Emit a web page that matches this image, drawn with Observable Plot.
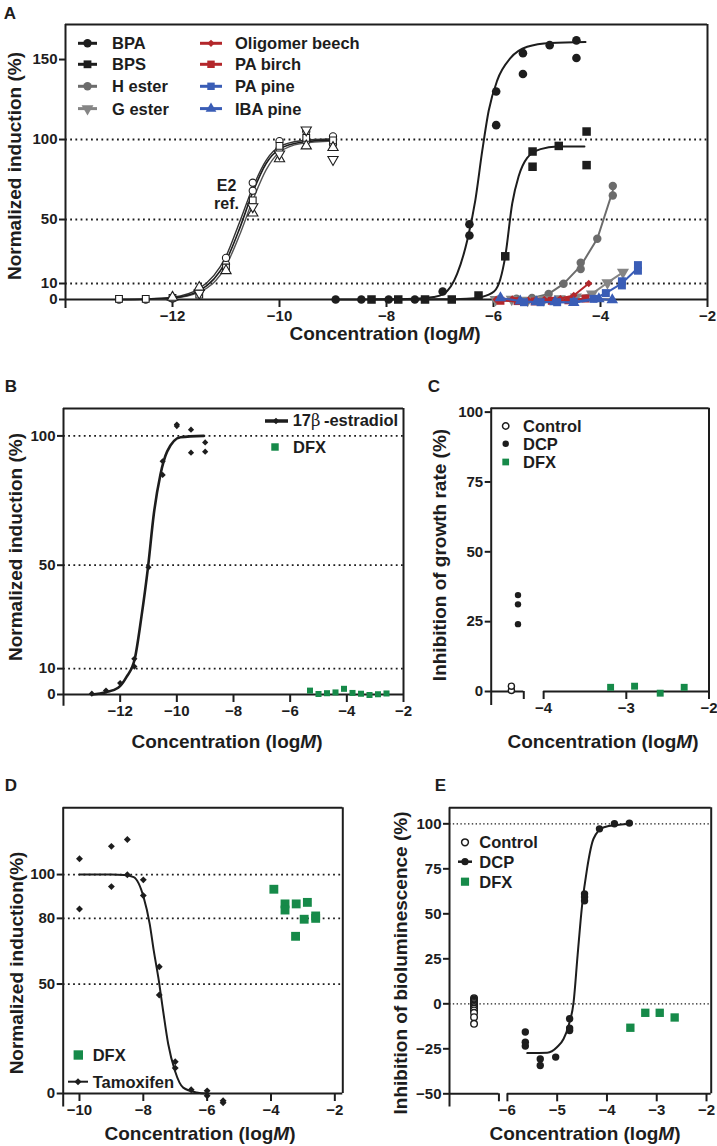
<!DOCTYPE html>
<html><head><meta charset="utf-8">
<script src="https://cdn.jsdelivr.net/npm/d3@7"></script>
<script src="https://cdn.jsdelivr.net/npm/@observablehq/plot@0.6"></script>
<style>
html,body{margin:0;padding:0;background:#fff;}
#root{position:relative;width:717px;height:1146px;overflow:hidden;background:#fff;font-family:"Liberation Sans",Arial,Helvetica,sans-serif;font-weight:bold;color:#1d1d1d;}
.t{position:absolute;white-space:nowrap;line-height:1;transform:translate(-50%,-50%);}
.ty{position:absolute;white-space:nowrap;line-height:1;transform:translate(-50%,-50%) rotate(-90deg);}
.lt{position:absolute;white-space:nowrap;line-height:1;transform:translateY(-50%);}
</style></head><body><div id="root"></div>
<script>
const INK = "#1d1d1d";
const GREEN = "#168a49";
const RED = "#b3272b";
const BLUE = "#3a5db6";
const GREY1 = "#6c6c6c";
const GREY2 = "#858585";
const FONT = '"Liberation Sans", Arial, Helvetica, sans-serif';

// ---------- Panel A data ----------
const aXTicks = [-12, -10, -8, -6, -4, -2];
const aYTicks = [0, 10, 50, 100, 150];
const aGrid = [10, 50, 100];
const e2Circle = [[-13,0],[-12.5,0],[-12,0.6],[-11.5,5],[-11,22],[-11,26],[-10.5,73],[-10.5,68],[-10,99],[-10,94],[-9.5,105],[-9.5,99],[-9,102],[-9,97]];
const e2Square = [[-13,0.4],[-12.5,0.4],[-12,1],[-11.5,3],[-11,20],[-10.5,62],[-10,96],[-9.5,101],[-9,99.5]];
const e2TriUp = [[-12,1.4],[-11.5,7.5],[-11,18],[-10.5,54],[-10,88],[-9.5,96],[-9,95]];
const e2TriDown = [[-11.5,4],[-10.5,58],[-10,91],[-9.5,106],[-9,87.5]];
const e2FitA = [[-13,0],[-12.5,0.2],[-12,1],[-11.5,5.5],[-11,24],[-10.75,44],[-10.5,67],[-10.25,85],[-10,94],[-9.6,98.3],[-9,99.8]];
const e2FitB = [[-13,0],[-12.5,0.3],[-12,1.4],[-11.5,6.8],[-11,27],[-10.75,48],[-10.5,70],[-10.25,87],[-10,95.5],[-9.6,99.2],[-9,100.5]];
const e2FitC = [[-13,0],[-12.5,0.1],[-12,0.8],[-11.5,4.6],[-11,21],[-10.75,40],[-10.5,62],[-10.25,81],[-10,92],[-9.6,97.4],[-9,99]];
const bpa = [[-8.95,0],[-8.47,0],[-7.96,0],[-7.47,0],[-6.95,5],[-6.45,47],[-6.45,40],[-5.95,130],[-5.95,109],[-5.45,154],[-5.45,141],[-4.95,159],[-4.45,162],[-4.45,151]];
const bpaFit = [[-8.95,0],[-8,0.1],[-7.5,0.4],[-7.12,1.5],[-6.93,3.5],[-6.68,16],[-6.49,37],[-6.34,62],[-6.21,93],[-6.09,118],[-5.93,137],[-5.68,151],[-5.37,158],[-4.93,160.4],[-4.28,161]];
const bps = [[-8.28,0],[-7.78,0],[-7.28,0],[-6.78,0],[-6.28,2.5],[-5.78,27],[-5.27,92.5],[-5.27,83],[-4.78,96],[-4.26,105],[-4.26,84]];
const bpsFit = [[-8.28,0],[-7,0.1],[-6.5,0.5],[-6.24,1.5],[-5.99,5],[-5.87,13],[-5.78,27],[-5.65,60],[-5.53,77],[-5.37,88.5],[-5.12,94],[-4.81,95.6],[-4.3,95.7]];
const hEster = [[-5.9,0],[-5.57,0.5],[-5.28,1],[-4.97,3.5],[-4.69,9.8],[-4.37,19],[-4.37,23],[-4.06,38],[-3.77,65],[-3.77,71]];
const gEster = [[-5.96,0],[-5.66,0.2],[-5.36,-0.4],[-5.06,0],[-4.76,0.5],[-4.46,1.5],[-4.16,3.5],[-3.87,10.5],[-3.58,17]];
const oligomerBeech = [[-5.95,0],[-5.65,0.3],[-5.35,-0.4],[-5.05,0],[-4.75,0.6],[-4.5,2.5],[-4.22,10]];
const paBirch = [[-5.87,-0.8],[-5.55,-1],[-5.23,-1.2],[-4.91,-0.8],[-4.6,-0.5],[-4.28,0.6]];
const paPine = [[-5.43,-1.7],[-5.12,-1.7],[-4.81,-1.7],[-4.5,-1.5],[-4.13,0.4],[-3.9,4],[-3.6,8.8],[-3.6,11.4],[-3.3,18],[-3.3,21.5]];
const ibaPine = [[-5.87,1],[-5.5,-1],[-5.2,-1.5],[-4.85,-1.5],[-4.5,-2],[-4.03,0.3],[-3.78,-0.3]];

// ---------- Panel B data ----------
const bXTicks = [-12, -10, -8, -6, -4, -2];
const bYTicks = [0, 10, 50, 100];
const bGrid = [10, 50, 100];
const bEstradiol = [[-13,0.3],[-12.5,1.5],[-12,4.4],[-11.5,13.8],[-11.5,10.8],[-11,49.2],[-10.5,90.2],[-10.5,84.9],[-10,104.4],[-10,103.8],[-9.5,102.4],[-9.5,93.5],[-9,97.5],[-9,93.9]];
const bEstradiolFit = [[-13,0],[-12.5,0.9],[-12.07,2.6],[-11.78,6.7],[-11.48,14],[-11.25,30],[-11.02,49],[-10.81,70],[-10.58,85],[-10.34,94],[-9.87,99.5],[-9.05,100]];
const bDFX = [[-5.3,1.5],[-5.0,0.2],[-4.7,0.5],[-4.4,0.8],[-4.1,2.2],[-3.8,0.6],[-3.5,0.3],[-3.2,-0.2],[-2.9,0.1],[-2.6,0.4]];

// ---------- Panel C data ----------
const cXTicks = [-4, -3, -2];
const cYTicks = [0, 25, 50, 75, 100];
const cControl = [[-4.39,0.4],[-4.39,1.9]];
const cDCP = [[-4.31,34.5],[-4.31,31.2],[-4.31,24.1]];
const cDFX = [[-3.19,1.5],[-2.9,1.9],[-2.59,-0.6],[-2.3,1.5]];

// ---------- Panel D data ----------
const dXTicks = [-10, -8, -6, -4, -2];
const dYTicks = [0, 50, 80, 100];
const dGrid = [50, 80, 100];
const dTamoxifen = [[-10,107.2],[-10,84.3],[-9,112.9],[-9,94.5],[-8.5,116],[-8.5,99.9],[-8,97.6],[-8,90.4],[-7.5,57.9],[-7.5,45],[-7,14.5],[-7,11.6],[-6.5,1.7],[-6,1.2],[-6,-1],[-5.5,-3.3],[-5.5,-4.2]];
const dTamoxifenFit = [[-10,100],[-9,100],[-8.6,99.8],[-8.3,98.8],[-7.99,89.6],[-7.8,77.5],[-7.67,65],[-7.53,53],[-7.38,37.8],[-7.22,22.6],[-7.01,10.4],[-6.75,2.7],[-6.33,0.5],[-6,0]];
const dDFX = [[-3.91,93.3],[-3.56,86.6],[-3.56,83.8],[-3.21,86.6],[-3.23,71.8],[-2.86,87.3],[-2.96,79.6],[-2.6,81.1],[-2.6,80]];

// ---------- Panel E data ----------
const eXTicks = [-6, -5, -4, -3, -2];
const eYTicks = [-50, -25, 0, 25, 50, 75, 100];
const eGrid = [0, 100];
const eControl = [[-6.67,3.1],[-6.67,2.4],[-6.67,1.8],[-6.67,1.1],[-6.67,0.5],[-6.67,-0.3],[-6.67,-1],[-6.67,-1.8],[-6.67,-2.6],[-6.67,-3.7],[-6.67,-5],[-6.67,-7.4],[-6.67,-11.1]];
const eDCP = [[-5.64,-15.7],[-5.64,-21.3],[-5.64,-23.5],[-5.34,-30.6],[-5.34,-34.3],[-5.03,-29.6],[-4.75,-8.3],[-4.75,-13.5],[-4.75,-14.8],[-4.45,61.1],[-4.45,59.3],[-4.45,57.2],[-4.15,97.2],[-3.85,100],[-3.55,100.4]];
const eDCPFit = [[-5.6,-27.4],[-5.2,-27.2],[-5,-24],[-4.87,-19.4],[-4.77,-12],[-4.67,0.9],[-4.59,26.9],[-4.5,54.6],[-4.4,75],[-4.27,91.7],[-4.06,98.1],[-3.55,100]];
const eDFX = [[-3.53,-13.3],[-3.23,-5],[-2.94,-5],[-2.64,-7.6]];

// ---------- helpers ----------
const root = document.getElementById("root");
const X = d => d[0], Y = d => d[1];
const triDown = {
  draw(context, size) {
    const y = -Math.sqrt(size / (Math.sqrt(3) * 3));
    context.moveTo(0, -y * 2);
    context.lineTo(-Math.sqrt(3) * y, y);
    context.lineTo(Math.sqrt(3) * y, y);
    context.closePath();
  }
};
function fmt(d) { return d < 0 ? "\u2212" + Math.abs(d) : String(d); }
function fit(data, stroke, sw = 2) { return Plot.line(data, {x: X, y: Y, curve: "monotone-x", stroke, strokeWidth: sw}); }
function pts(data, symbol, r, fill, stroke = "none", sw = 0) { return Plot.dot(data, {x: X, y: Y, symbol, r, fill, stroke, strokeWidth: sw}); }
function meanLine(data, stroke, sw = 2) { return Plot.line(data, Plot.groupX({y: "mean"}, {x: X, y: Y, stroke, strokeWidth: sw})); }

function panel(o) {
  const [L, T, Wd, Ht] = o.box, [fl, ft, fr, fb] = o.frame;
  const [x0, x1] = o.x, [y0, y1] = o.y;
  const line = {stroke: INK, strokeWidth: 2};
  const marks = [
    Plot.ruleY(o.grid || [], {stroke: INK, strokeWidth: o.gridW || 1.8, strokeDasharray: o.gridDash || "1.8,3.4"}),
    Plot.ruleX([x0], {y1: o.yLow, y2: y1, ...line}),
    Plot.ruleX([x1], {y1: y0, y2: y1, ...line}),
    Plot.ruleY([y1], {x1: x0, x2: x1, ...line}),
    Plot.ruleY(o.xSegs || [[x0, x1]], {y: y0, x1: X, x2: Y, ...line}),
    Plot.axisY({ticks: o.yTicks, tickSize: 6, tickPadding: 2, strokeWidth: 2, tickFormat: fmt, label: null, fontSize: 15}),
    Plot.axisX({ticks: o.xTicks, tickSize: 8, tickPadding: 3, strokeWidth: 2, tickFormat: fmt, label: null, fontSize: 15})
  ];
  if (o.xBlankTicks) marks.push(Plot.axisX({ticks: o.xBlankTicks, tickSize: 8, strokeWidth: 2, tickFormat: () => "", label: null}));
  const svg = Plot.plot({
    width: Wd, height: Ht,
    marginLeft: fl - L, marginRight: L + Wd - fr, marginTop: ft - T, marginBottom: T + Ht - fb,
    x: {domain: o.x, axis: null},
    y: {domain: o.y, axis: null},
    style: {fontFamily: FONT, fontWeight: "bold", fontSize: "15px", color: INK, background: "transparent", overflow: "visible"},
    marks: [...marks, ...o.marks]
  });
  svg.style.position = "absolute";
  svg.style.left = L + "px";
  svg.style.top = T + "px";
  root.appendChild(svg);
}
function text(html, x, y, size, cls = "t") {
  const d = document.createElement("div");
  d.className = cls;
  d.style.left = x + "px";
  d.style.top = y + "px";
  d.style.fontSize = size + "px";
  d.innerHTML = html;
  root.appendChild(d);
}

// ---------- Panel A ----------
panel({
  box: [0, 0, 717, 345], frame: [65, 24, 707, 299],
  x: [-14, -2], y: [0, 171.9], yLow: -5.6,
  xTicks: aXTicks, yTicks: aYTicks, grid: aGrid,
  marks: [
    fit(e2FitC, "#555", 1.4), fit(e2FitB, "#333", 1.4), fit(e2FitA, INK, 1.6),
    pts(e2Circle, "circle", 3.6, "white", INK, 1.1),
    pts(e2Square, "square", 3.8, "white", INK, 1.1),
    pts(e2TriUp, "triangle", 3.8, "white", INK, 1.1),
    pts(e2TriDown, triDown, 3.8, "white", INK, 1.1),
    fit(bpaFit, INK, 2), pts(bpa, "circle", 4.3, INK),
    fit(bpsFit, INK, 2), pts(bps, "square", 4.8, INK),
    meanLine(hEster, GREY1), pts(hEster, "circle", 4.2, GREY1),
    meanLine(gEster, GREY2), pts(gEster, triDown, 4.5, GREY2),
    meanLine(paBirch, RED), pts(paBirch, "square", 4.5, RED),
    meanLine(oligomerBeech, RED), pts(oligomerBeech, "diamond2", 3.3, RED),
    meanLine(ibaPine, BLUE), pts(ibaPine, "triangle", 4.3, BLUE),
    meanLine(paPine, BLUE), pts(paPine, "square", 4.5, BLUE)
  ]
});

// ---------- Panel B ----------
panel({
  box: [0, 345, 420, 400], frame: [63, 408, 403, 694],
  x: [-14, -2], y: [0, 110.6], yLow: -4.5,
  xTicks: bXTicks, yTicks: bYTicks, grid: bGrid,
  marks: [
    fit(bEstradiolFit, INK, 2.6),
    pts(bEstradiol, "diamond2", 2.8, INK),
    pts(bDFX, "square", 3.4, GREEN)
  ]
});

// ---------- Panel C ----------
panel({
  box: [420, 345, 297, 400], frame: [490.7, 407.7, 708.5, 691],
  x: [-4.634, -2], y: [0, 101.4], yLow: -5,
  xTicks: cXTicks, yTicks: cYTicks, xBlankTicks: [-4.24],
  xSegs: [[-4.634, -4.24], [-4, -2]],
  marks: [
    pts(cControl, "circle", 3.1, "white", INK, 1.4),
    pts(cDCP, "circle", 3.2, INK),
    pts(cDFX, "square", 3.9, GREEN)
  ]
});

// ---------- Panel D ----------
panel({
  box: [0, 745, 360, 401], frame: [62.7, 807.3, 342.3, 1093],
  x: [-10.51, -1.75], y: [0, 130.5], yLow: -6.2,
  xTicks: dXTicks, yTicks: dYTicks, grid: dGrid,
  marks: [
    fit(dTamoxifenFit, INK, 2),
    pts(dTamoxifen, "diamond2", 3.1, INK),
    pts(dDFX, "square", 5, GREEN)
  ]
});

// ---------- Panel E ----------
panel({
  box: [360, 745, 357, 401], frame: [449, 807.3, 710.7, 1093.3],
  x: [-7.163, -1.906], y: [-50, 108.9], yLow: -57.4,
  xTicks: eXTicks, yTicks: eYTicks, xBlankTicks: [-6.17],
  xSegs: [[-7.163, -6.17], [-6.0, -1.906]],
  grid: eGrid, gridW: 1.2, gridDash: "1.4,2.4",
  marks: [
    pts(eControl, "circle", 3.3, "white", INK, 1.4),
    fit(eDCPFit, INK, 2),
    pts(eDCP, "circle", 3.7, INK),
    pts(eDFX, "square", 4.7, GREEN)
  ]
});

// ---------- Legends (symbols overlay + HTML text) ----------
const overlay = d3.select(root).append("svg")
  .attr("width", 717).attr("height", 1146)
  .style("position", "absolute").style("left", "0px").style("top", "0px").style("pointer-events", "none");
const symType = {circle: d3.symbolCircle, square: d3.symbolSquare, triangle: d3.symbolTriangle, diamond2: d3.symbolDiamond2, triDown};
function legSym(cx, cy, o) {
  if (o.line) overlay.append("line").attr("x1", o.line[0]).attr("x2", o.line[1]).attr("y1", cy).attr("y2", cy)
    .attr("stroke", o.lineColor || o.fill).attr("stroke-width", o.lineW || 3);
  overlay.append("path").attr("d", d3.symbol(symType[o.type], Math.PI * o.r * o.r)())
    .attr("transform", `translate(${cx},${cy})`)
    .attr("fill", o.fill).attr("stroke", o.stroke || "none").attr("stroke-width", o.sw || 0);
}
function legText(x, cy, html, size = 16.5) { text(html, x, cy, size, "lt"); }

// Panel A legend
const aLegLeft = [
  ["BPA", {type: "circle", r: 4.2, fill: INK}],
  ["BPS", {type: "square", r: 4.4, fill: INK}],
  ["H ester", {type: "circle", r: 4.2, fill: GREY1}],
  ["G ester", {type: "triDown", r: 4.4, fill: GREY2}]
];
const aLegRight = [
  ["Oligomer beech", {type: "diamond2", r: 3.3, fill: RED}],
  ["PA birch", {type: "square", r: 4.2, fill: RED}],
  ["PA pine", {type: "square", r: 4.2, fill: BLUE}],
  ["IBA pine", {type: "triangle", r: 4.0, fill: BLUE}]
];
const aRows = [43.3, 64.3, 86.3, 108.6];
aLegLeft.forEach(([t, s], i) => { legSym(87.5, aRows[i], {...s, line: [78, 97]}); legText(112, aRows[i], t); });
aLegRight.forEach(([t, s], i) => { legSym(211, aRows[i], {...s, line: [200, 222]}); legText(235, aRows[i], t); });

// Panel B legend
legSym(276, 421, {type: "diamond2", r: 3, fill: INK, line: [265, 288], lineW: 3.5});
legText(292.7, 421, '17<span style="font-family:\'DejaVu Serif\',serif;font-weight:normal">β</span>&thinsp;-estradiol', 16.5);
legSym(275, 447, {type: "square", r: 4.2, fill: GREEN});
legText(293, 447, "DFX");

// Panel C legend
legSym(505.7, 426, {type: "circle", r: 3.2, fill: "white", stroke: INK, sw: 1.5});
legText(523, 426, "Control");
legSym(505.7, 443.8, {type: "circle", r: 3.2, fill: INK});
legText(523, 443.8, "DCP");
legSym(505.7, 462, {type: "square", r: 3.8, fill: GREEN});
legText(523, 462, "DFX");

// Panel D legend
legSym(78.3, 1055, {type: "square", r: 5.3, fill: GREEN});
legText(92.7, 1055, "DFX");
legSym(78, 1081.7, {type: "diamond2", r: 3.2, fill: INK, line: [68, 88], lineW: 2});
legText(92.7, 1081.7, "Tamoxifen");

// Panel E legend
legSym(465, 842.3, {type: "circle", r: 3.4, fill: "white", stroke: INK, sw: 1.5});
legText(479.3, 842.3, "Control");
legSym(465, 861.7, {type: "circle", r: 3.6, fill: INK, line: [458, 472], lineW: 2.5});
legText(479.3, 861.7, "DCP");
legSym(465, 881.7, {type: "square", r: 4.6, fill: GREEN});
legText(479.3, 881.7, "DFX");

// ---------- Titles & panel letters ----------
const xTitle = "Concentration (log<i>M</i>)";
text("A", 10, 13, 17); text("B", 11, 386, 17); text("C", 434, 386, 17); text("D", 11, 785, 17); text("E", 440.5, 785, 17);
text(xTitle, 385, 333, 19);
text(xTitle, 227, 741, 19);
text(xTitle, 603, 741, 19);
text(xTitle, 200, 1133, 19);
text(xTitle, 585, 1133, 19);
text("Normalized induction (%)", 14, 166, 19, "ty");
text("Normalized induction (%)", 15, 547, 19, "ty");
text("Inhibition of growth rate (%)", 439, 555, 19, "ty");
text("Normalized induction(%)", 16, 963, 19, "ty");
text("Inhibition of bioluminescence (%)", 400, 963, 19, "ty");
text("E2", 226.5, 186, 16);
text("ref.", 226.5, 204, 16);
</script></body></html>
